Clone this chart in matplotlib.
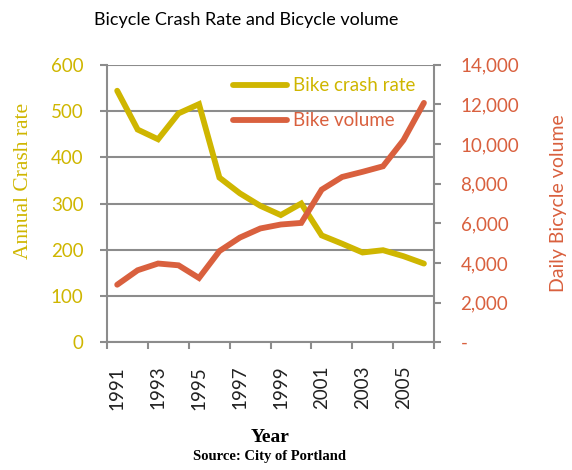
import numpy as np
import matplotlib.pyplot as plt
from matplotlib.ticker import FuncFormatter

# Data
years = [1991, 1992, 1993, 1994, 1995, 1996, 1997, 1998,
         1999, 2000, 2001, 2002, 2003, 2004, 2005, 2006]
crash_rate = [544, 460, 439, 495, 515, 356, 322, 295,
              275, 300, 231, 213, 194, 199, 186, 170]
bike_volume = [2900, 3630, 3970, 3880, 3240, 4600, 5280, 5740,
               5940, 6020, 7700, 8340, 8600, 8880, 10200, 12080]
year_labels = [1991, 1993, 1995, 1997, 1999, 2001, 2003, 2005]

yellow = '#CFB600'
orange = '#D9603E'
grey = '#8C8C8C'
sans = ['Lato', 'DejaVu Sans']
serif = ['Liberation Serif', 'DejaVu Serif']

fig = plt.figure(figsize=(5.72, 4.70), dpi=100)
ax1 = fig.add_axes([0.187, 0.272, 0.572, 0.59])
ax2 = ax1.twinx()

l1, = ax1.plot(years, crash_rate, color=yellow, lw=4.2, solid_capstyle='round',
               solid_joinstyle='miter', label='Bike crash rate', zorder=3)
l2, = ax2.plot(years, bike_volume, color=orange, lw=4.2, solid_capstyle='round',
               solid_joinstyle='miter', label='Bike volume', zorder=3)

ax1.set_xlim(1990.5, 2006.5)
ax1.set_ylim(0, 600)
ax2.set_ylim(0, 14000)
ax1.set_yticks(np.arange(0, 601, 100))
ax2.set_yticks(np.arange(0, 14001, 2000))
ax2.yaxis.set_major_formatter(FuncFormatter(lambda v, p: '-' if v == 0 else f'{int(v):,}'))

# category axis: tick marks between categories, labels at centers
ax1.set_xticks(year_labels)
ax1.set_xticklabels([str(y) for y in year_labels], rotation=90, family=sans,
                    fontsize=13.5, color='#222222')
ax1.set_xticks(np.arange(1990.5, 2007, 2), minor=True)
ax1.tick_params(axis='x', which='major', length=0, pad=17)
ax1.tick_params(axis='x', which='minor', length=5, width=1.5, color=grey, direction='out')

ax1.grid(axis='y', color=grey, lw=1.5)
ax1.set_axisbelow(True)
for ax in (ax1, ax2):
    for s in ax.spines.values():
        s.set_visible(False)
ax1.spines['left'].set_visible(True)
ax1.spines['bottom'].set_visible(True)
ax2.spines['right'].set_visible(True)
for s in (ax1.spines['left'], ax1.spines['bottom'], ax2.spines['right']):
    s.set_color(grey)
    s.set_linewidth(1.5)

ax1.tick_params(axis='y', length=5, width=1.5, color=grey, labelcolor=yellow,
                labelsize=13.5, pad=12)
ax2.tick_params(axis='y', length=5, width=1.5, color=grey, labelcolor=orange,
                labelsize=13.5, pad=14)
for lab in ax1.get_yticklabels() + ax2.get_yticklabels():
    lab.set_family(sans)

ax1.set_ylabel('Annual Crash rate', color=yellow, family=serif, fontsize=15.5)
ax1.yaxis.set_label_coords(-0.226, 0.58)
ax2.set_ylabel('Daily Bicycle volume', color=orange, family=sans, fontsize=14)
ax2.yaxis.set_label_coords(1.355, 0.5)

leg = ax2.legend(handles=[l1, l2], loc='upper left', bbox_to_anchor=(0.385, 0.955),
                 frameon=False, prop={'family': sans, 'size': 13.5},
                 borderpad=0, borderaxespad=0, handlelength=2.9, handletextpad=0.3,
                 labelspacing=0.95)
for txt, c in zip(leg.get_texts(), [yellow, orange]):
    txt.set_color(c)

fig.text(0.43, 0.957, 'Bicycle Crash Rate and Bicycle volume', ha='center', va='center',
         family=sans, fontsize=13)
fig.text(0.472, 0.07, 'Year', ha='center', va='center', family=serif,
         fontsize=14, fontweight='bold')
fig.text(0.472, 0.028, 'Source: City of Portland', ha='center', va='center', family=serif,
         fontsize=10.5, fontweight='bold')

plt.savefig('out.png', dpi=100)
